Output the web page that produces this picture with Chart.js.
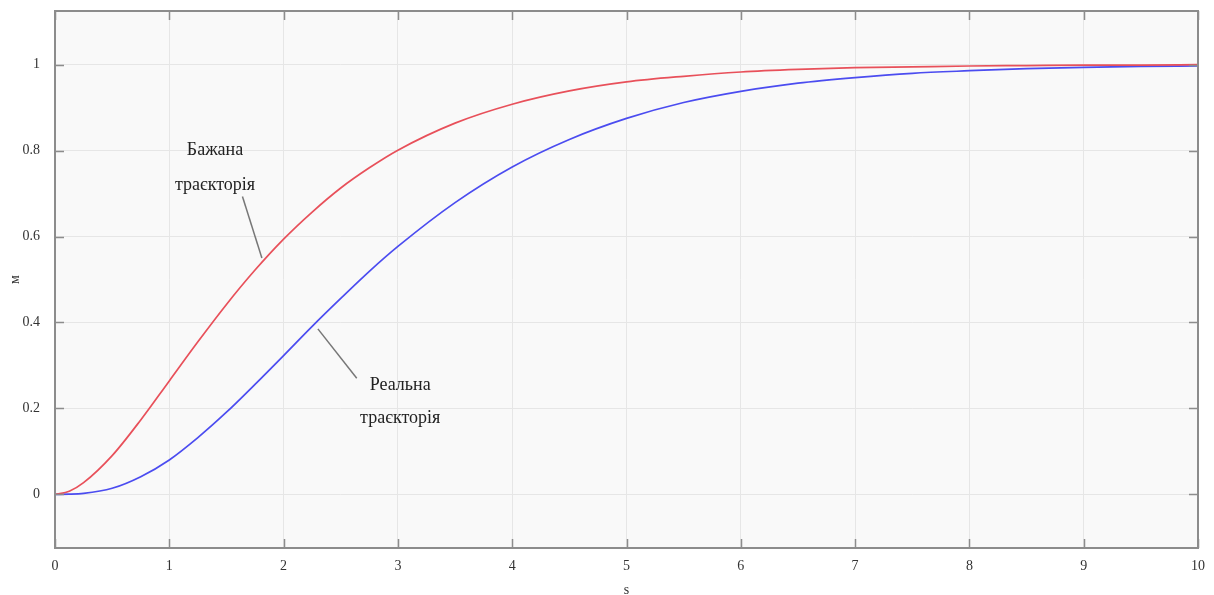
<!DOCTYPE html>
<html>
<head>
<meta charset="utf-8">
<script src="https://cdn.jsdelivr.net/npm/chart.js@4/dist/chart.umd.min.js"></script>
<style>
  html, body { margin: 0; padding: 0; background: #fff; }
  #wrap { width: 1214px; height: 595px; }
</style>
</head>
<body>
<div id="wrap"><canvas id="chart" width="1214" height="595"></canvas></div>
<script>
// time, s
const times = [0, 0.125, 0.25, 0.5, 0.75, 1, 1.25, 1.5, 1.75, 2, 2.25, 2.5, 2.75, 3, 3.5, 4, 4.5, 5,
               5.5, 6, 6.5, 7, 7.5, 8, 8.5, 9, 9.5, 10];
// desired trajectory (red)
const desired = [0, 0.007, 0.027, 0.09, 0.173, 0.264, 0.355, 0.442, 0.522, 0.594, 0.657, 0.713, 0.76, 0.801,
                 0.864, 0.908, 0.939, 0.96, 0.973, 0.983, 0.989, 0.993, 0.995, 0.997, 0.998, 0.999, 0.999, 1.0];
// real trajectory (blue)
const real = [0, 0.0003, 0.002, 0.014, 0.041, 0.08, 0.132, 0.191, 0.256, 0.323, 0.391, 0.456, 0.519, 0.577,
              0.679, 0.762, 0.826, 0.875, 0.912, 0.938, 0.957, 0.97, 0.98, 0.986, 0.991, 0.994, 0.996, 0.997];

const xTicks = [0, 1, 2, 3, 4, 5, 6, 7, 8, 9, 10];
const yTicks = [0, 0.2, 0.4, 0.6, 0.8, 1];

// callouts: text lines + leader line, in data units
const labels = [
  { lines: ['Бажана', 'траєкторія'], at: [1.4, 0.80], gap: 0.08, from: [1.64, 0.693], to: [1.81, 0.55] },
  { lines: ['Реальна', 'траєкторія'], at: [3.02, 0.253], gap: 0.075, from: [2.64, 0.27], to: [2.30, 0.385] }
];

const toXY = (xs, ys) => xs.map((x, i) => ({ x: x, y: ys[i] }));

const serif = '"Liberation Serif", "DejaVu Serif", serif';

// background, inward ticks, axis titles and callouts
const decor = {
  id: 'decor',
  beforeDraw(chart) {
    const { ctx, chartArea: a } = chart;
    ctx.save();
    ctx.fillStyle = '#f9f9f9';
    ctx.fillRect(a.left, a.top, a.right - a.left, a.bottom - a.top);
    ctx.restore();
  },
  afterDatasetsDraw(chart) {
    const { ctx, chartArea: a, scales } = chart;
    const sx = scales.x, sy = scales.y;
    ctx.save();
    // frame
    ctx.strokeStyle = '#8c8c8c';
    ctx.lineWidth = 2;
    ctx.strokeRect(a.left, a.top, a.right - a.left, a.bottom - a.top);
    // inward ticks
    ctx.lineWidth = 1.5;
    ctx.beginPath();
    xTicks.forEach(v => {
      const px = Math.round(sx.getPixelForValue(v)) + 0.5;
      ctx.moveTo(px, a.bottom); ctx.lineTo(px, a.bottom - 9);
      ctx.moveTo(px, a.top); ctx.lineTo(px, a.top + 9);
    });
    yTicks.forEach(v => {
      const py = Math.round(sy.getPixelForValue(v)) + 0.5;
      ctx.moveTo(a.left, py); ctx.lineTo(a.left + 9, py);
      ctx.moveTo(a.right, py); ctx.lineTo(a.right - 9, py);
    });
    ctx.stroke();

    // axis titles
    ctx.fillStyle = '#333';
    ctx.font = '14px ' + serif;
    ctx.textAlign = 'center';
    ctx.textBaseline = 'middle';
    ctx.fillText('s', (a.left + a.right) / 2, 590);
    ctx.save();
    ctx.translate(15, (a.top + a.bottom) / 2);
    ctx.rotate(-Math.PI / 2);
    ctx.fillText('м', 0, 0);
    ctx.restore();

    // callouts
    ctx.font = '18px ' + serif;
    ctx.fillStyle = '#222';
    labels.forEach(l => {
      l.lines.forEach((t, i) => {
        ctx.fillText(t, sx.getPixelForValue(l.at[0]), sy.getPixelForValue(l.at[1] - i * l.gap));
      });
      ctx.strokeStyle = '#777';
      ctx.lineWidth = 1.5;
      ctx.beginPath();
      ctx.moveTo(sx.getPixelForValue(l.from[0]), sy.getPixelForValue(l.from[1]));
      ctx.lineTo(sx.getPixelForValue(l.to[0]), sy.getPixelForValue(l.to[1]));
      ctx.stroke();
    });
    ctx.restore();
  }
};

new Chart(document.getElementById('chart').getContext('2d'), {
  type: 'line',
  data: {
    datasets: [
      { label: 'Бажана траєкторія', data: toXY(times, desired), borderColor: '#e8505a', borderWidth: 1.7,
        pointRadius: 0, cubicInterpolationMode: 'monotone', fill: false },
      { label: 'Реальна траєкторія', data: toXY(times, real), borderColor: '#4b4cf0', borderWidth: 1.7,
        pointRadius: 0, cubicInterpolationMode: 'monotone', fill: false }
    ]
  },
  options: {
    responsive: false,
    animation: false,
    layout: { padding: { top: 11, right: 16, left: 0, bottom: 0 } },
    plugins: { legend: { display: false }, tooltip: { enabled: false } },
    scales: {
      x: {
        type: 'linear', min: 0, max: 10,
        afterFit: s => { s.height = 47; s.paddingLeft = 0; s.paddingRight = 0; },
        afterBuildTicks: s => { s.ticks = xTicks.map(v => ({ value: v })); },
        grid: { color: '#e6e6e6', lineWidth: 1, drawTicks: false },
        border: { display: false },
        ticks: { color: '#333', padding: 10, font: { family: serif, size: 14 } }
      },
      y: {
        type: 'linear', min: -0.125, max: 1.125,
        afterFit: s => { s.width = 55; s.paddingTop = 0; s.paddingBottom = 0; },
        afterBuildTicks: s => { s.ticks = yTicks.map(v => ({ value: v })); },
        grid: { color: '#e6e6e6', lineWidth: 1, drawTicks: false },
        border: { display: false },
        ticks: { color: '#333', padding: 15, font: { family: serif, size: 14 },
                 callback: v => String(v) }
      }
    }
  },
  plugins: [decor]
});
</script>
</body>
</html>
